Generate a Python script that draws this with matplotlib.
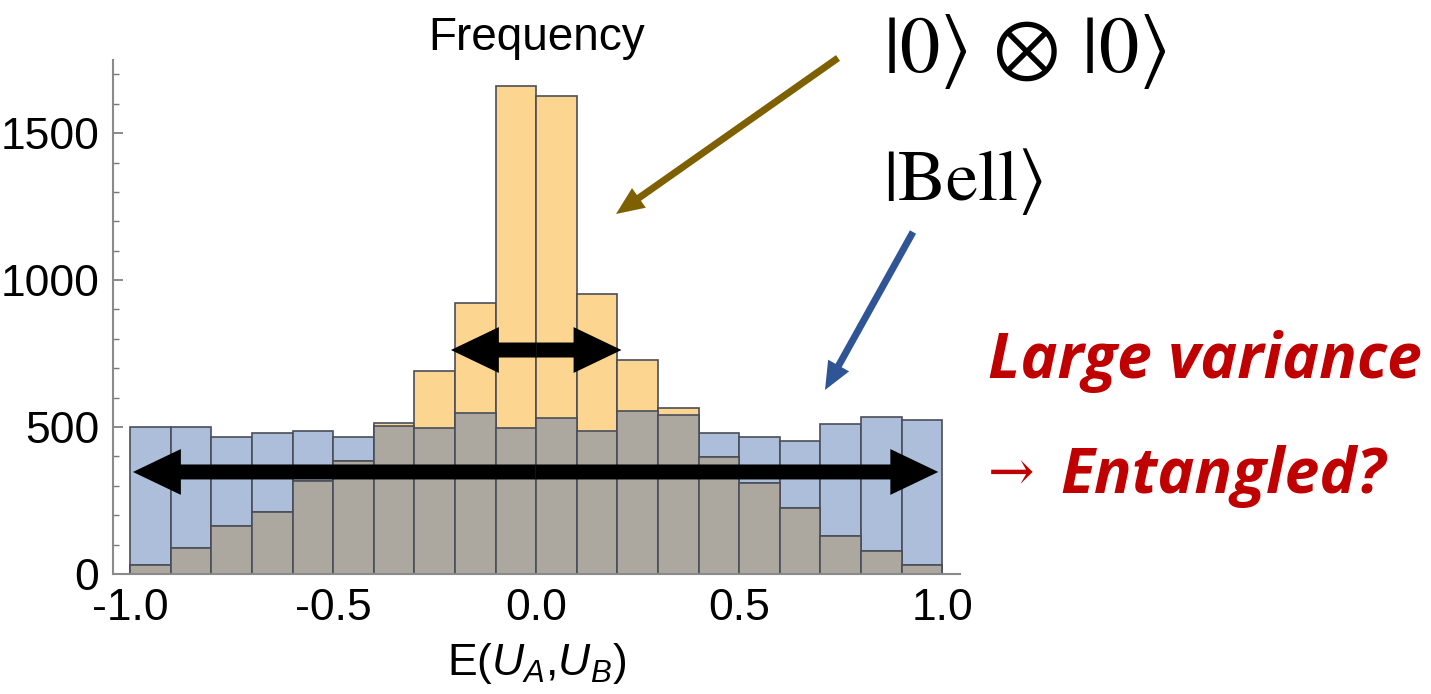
import numpy as np
import matplotlib
matplotlib.use("Agg")
import matplotlib.pyplot as plt
from matplotlib.patches import FancyArrow

plt.rcParams['font.family'] = ['Liberation Sans', 'DejaVu Sans']
plt.rcParams['mathtext.fontset'] = 'custom'
plt.rcParams['mathtext.rm'] = 'Liberation Sans'
plt.rcParams['mathtext.it'] = 'Liberation Sans:italic'

# histogram counts, 20 bins of width 0.1 from -1 to 1
bin_left = np.round(np.arange(-1.0, 1.0, 0.1), 2)
product_counts = [29, 88, 162, 211, 317, 386, 512, 691, 922, 1659,
                  1628, 952, 728, 566, 398, 310, 224, 129, 78, 29]
bell_counts = [500, 500, 466, 480, 486, 466, 504, 498, 548, 498,
               529, 486, 554, 540, 480, 466, 454, 511, 535, 523]

yticks = [0, 500, 1000, 1500]
xticks = [-1.0, -0.5, 0.0, 0.5, 1.0]

orange = '#FCD690'
blue = '#ACBED9'
overlap = '#ACA8A0'
edge = '#4a4e58'
red = '#C00000'

fig = plt.figure(figsize=(14.31, 6.94), dpi=100)
ax = fig.add_axes([0.079, 0.173, 0.592, 0.741])

overlap_counts = np.minimum(product_counts, bell_counts)
ax.bar(bin_left, bell_counts, width=0.1, align='edge', color=blue,
       edgecolor=edge, linewidth=1.2, zorder=2)
ax.bar(bin_left, product_counts, width=0.1, align='edge', color=orange,
       edgecolor=edge, linewidth=1.2, zorder=3)
ax.bar(bin_left, overlap_counts, width=0.1, align='edge', color=overlap,
       edgecolor=edge, linewidth=1.2, zorder=4)

ax.set_xlim(-1.042, 1.044)
ax.set_ylim(0, 1750)
ax.set_xticks(xticks)
ax.set_xticklabels(['%.1f' % t for t in xticks])
ax.set_yticks(yticks)
ax.set_yticks(np.arange(100, 1800, 100), minor=True)
ax.set_xticks(np.round(np.arange(-1.0, 1.05, 0.1), 2), minor=True)

for s in ['top', 'right']:
    ax.spines[s].set_visible(False)
for s in ['left', 'bottom']:
    ax.spines[s].set_color('#8a8a8a')
    ax.spines[s].set_linewidth(1.5)
    ax.spines[s].set_zorder(6)

ax.tick_params(which='major', direction='in', length=7, width=1.2,
               color='#777777', labelsize=32, pad=10)
ax.tick_params(which='minor', direction='in', length=4, width=1.0,
               color='#777777')

ax.set_xlabel(r'E$(U_A{,}U_B)$', fontsize=32, labelpad=9)
ax.set_title('Frequency', fontsize=33, pad=2)

# black double arrows showing the spread (two heads drawn from the middle)
def double_arrow(x0, x1, y):
    mid = (x0 + x1) / 2
    for end in (x0, x1):
        ax.add_patch(FancyArrow(mid, y, end - mid, 0, width=51,
                                head_width=156, head_length=0.118,
                                length_includes_head=True, color='black',
                                lw=0, zorder=7))

double_arrow(-0.21, 0.21, 762)
double_arrow(-0.993, 0.99, 347)

# overlay in figure pixels for the pointer arrows
ov = fig.add_axes([0, 0, 1, 1], zorder=10)
ov.set_xlim(0, 1431)
ov.set_ylim(694, 0)
ov.axis('off')

def pointer(x0, y0, x1, y1, color):
    ov.add_patch(FancyArrow(x0, y0, x1 - x0, y1 - y0, width=7,
                            head_width=24, head_length=28,
                            length_includes_head=True, color=color, lw=0))

pointer(838, 58, 616, 214, '#7F6000')
pointer(913, 232, 825, 390, '#2F5597')

fig.text(883 / 1431, 1 - 72 / 694, r'$|0\rangle\,\otimes\,|0\rangle$',
         fontsize=58, math_fontfamily='stix', va='baseline', ha='left')
fig.text(883 / 1431, 1 - 200 / 694, r'$|\mathrm{Bell}\rangle$',
         fontsize=52, math_fontfamily='stix', va='baseline', ha='left')

fig.text(988 / 1431, 1 - 378 / 694, 'Large variance', fontsize=45,
         family='Open Sans', weight='bold', style='italic', color=red,
         va='baseline', ha='left')
fig.text(988 / 1431, 1 - 490 / 694, '→', fontsize=40,
         family='DejaVu Serif', color=red, va='baseline', ha='left')
fig.text(1060 / 1431, 1 - 493 / 694, 'Entangled?', fontsize=45,
         family='Open Sans', weight='bold', style='italic',
         color=red, va='baseline', ha='left')

fig.savefig('out.png', dpi=100)
